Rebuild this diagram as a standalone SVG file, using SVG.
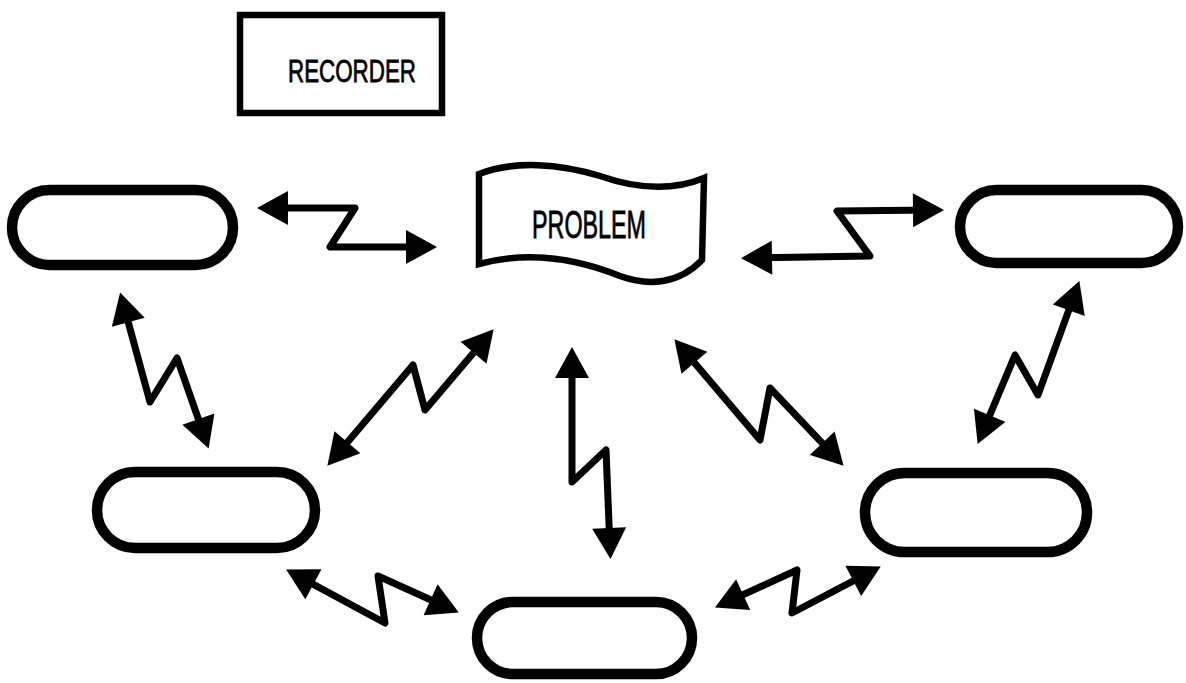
<svg xmlns="http://www.w3.org/2000/svg" width="1186" height="683" viewBox="0 0 1186 683">
<style>
.node{fill:none;stroke:#000;stroke-width:10.5}
.box{fill:none;stroke:#000;stroke-width:6.5}
.conn{fill:none;stroke:#000;stroke-width:7;stroke-linejoin:round;marker-start:url(#ah);marker-end:url(#ah)}
.lbl{font-family:"Liberation Sans",Arial,sans-serif;fill:#000;stroke:#000;stroke-width:0.8}
</style>
<defs>
<marker id="ah" markerUnits="userSpaceOnUse" markerWidth="33" markerHeight="34" viewBox="0 0 31 34" refX="20" refY="17" orient="auto-start-reverse">
<path d="M0,0 L31,17 L0,34 z" fill="#000"/>
</marker>
</defs>
<rect width="1186" height="683" fill="#fff"/>
<g id="recorder">
<rect class="box" x="240" y="15" width="202" height="98"/>
<text class="lbl" x="288" y="82" font-size="32" textLength="128" lengthAdjust="spacingAndGlyphs">RECORDER</text>
</g>
<g id="problem">
<path class="box" d="M479,174 C515,160 560,164 600,176 C640,190 675,190 704,178 L702,260 C680,283 650,287 620,276 C580,260 530,250 479,264 Z"/>
<text class="lbl" x="532" y="238" font-size="38" textLength="114" lengthAdjust="spacingAndGlyphs">PROBLEM</text>
</g>
<g id="node-top-left"><rect class="node" x="12" y="190" width="221" height="75" rx="37.5"/></g>
<g id="node-top-right"><rect class="node" x="960" y="190" width="218" height="73" rx="36.5"/></g>
<g id="node-mid-left"><rect class="node" x="97" y="472" width="218" height="76" rx="38"/></g>
<g id="node-mid-right"><rect class="node" x="865" y="473" width="222" height="79" rx="39.5"/></g>
<g id="node-bottom"><rect class="node" x="477" y="602" width="215" height="72" rx="36"/></g>
<g id="connectors">
<path class="conn" d="M268,208 L355,208 L330,247 L426,247"/>
<path class="conn" d="M752,258 L870,256 L837,211 L933,210"/>
<path class="conn" d="M123,303 L150,402 L177,358 L205,438"/>
<path class="conn" d="M334.5,457.4 L413,365 L425,410 L486.5,337.6"/>
<path class="conn" d="M572,358 L572,482 L606,450 L610,548"/>
<path class="conn" d="M681.5,347.6 L760,440 L770,388 L836,457.7"/>
<path class="conn" d="M1075.6,291.4 L1038,395 L1015,355 L981.9,433.8"/>
<path class="conn" d="M295.8,574.8 L385,623 L378,576 L448.8,608"/>
<path class="conn" d="M725,603 L797,570 L792,613 L871,571.6"/>
</g>
</svg>
